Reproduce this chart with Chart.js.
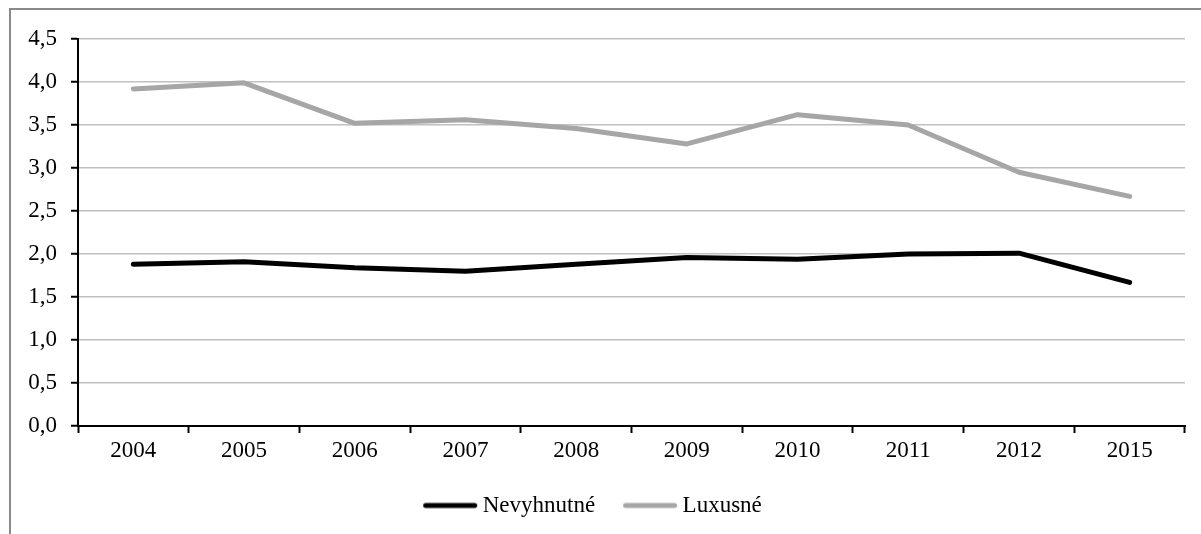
<!DOCTYPE html>
<html lang="sk">
<head>
  <meta charset="UTF-8" />
  <title>Nevyhnutné a luxusné</title>
  <script src="https://cdn.jsdelivr.net/npm/chart.js"></script>
  <style>
    html, body {
      margin: 0;
      padding: 0;
      background: #fff;
      overflow: hidden;
    }
    .frame {
      position: absolute;
      left: 9px;
      top: 8px;
      width: 1300px;
      height: 700px;
      border-left: 2px solid #8a8a8a;
      border-top: 2px solid #8a8a8a;
    }
    .wrap {
      position: absolute;
      left: 0;
      top: 0;
      width: 1201px;
      height: 534px;
    }
  </style>
</head>
<body>
  <div class="frame"></div>
  <div class="wrap"><canvas id="chart" width="1201" height="534"></canvas></div>

  <script>
    const years = ['2004', '2005', '2006', '2007', '2008', '2009', '2010', '2011', '2012', '2015'];
    const nevyhnutne = [1.88, 1.91, 1.84, 1.80, 1.88, 1.96, 1.94, 2.00, 2.01, 1.67];
    const luxusne = [3.92, 3.99, 3.52, 3.56, 3.46, 3.28, 3.62, 3.50, 2.95, 2.67];

    const font = { family: "'Liberation Serif', 'Times New Roman', serif", size: 23 };

    // legend swatch: thick round-ended line, 54px, starting at the box's left edge
    // (image is centred on a 48px box, so it is 70 wide and the line starts 11px in)
    function lineIcon(color) {
      const c = document.createElement('canvas');
      c.width = 70;
      c.height = 8;
      const g = c.getContext('2d');
      g.strokeStyle = color;
      g.lineWidth = 5;
      g.lineCap = 'round';
      g.beginPath();
      g.moveTo(13.5, 4);
      g.lineTo(62.5, 4);
      g.stroke();
      return c;
    }

    new Chart(document.getElementById('chart'), {
      type: 'line',
      data: {
        labels: years,
        datasets: [
          {
            label: 'Nevyhnutné',
            data: nevyhnutne,
            borderColor: '#000000',
            backgroundColor: '#000000',
            borderWidth: 5,
            borderCapStyle: 'round',
            borderJoinStyle: 'round',
            pointRadius: 0,
            pointStyle: lineIcon('#000000'),
            tension: 0
          },
          {
            label: 'Luxusné',
            data: luxusne,
            borderColor: '#a6a6a6',
            backgroundColor: '#a6a6a6',
            borderWidth: 5,
            borderCapStyle: 'round',
            borderJoinStyle: 'round',
            pointRadius: 0,
            pointStyle: lineIcon('#a6a6a6'),
            tension: 0
          }
        ]
      },
      options: {
        responsive: false,
        animation: false,
        layout: { padding: { left: 0, right: 16, top: 39, bottom: 7 } },
        plugins: {
          tooltip: { enabled: false },
          legend: {
            position: 'bottom',
            labels: {
              color: '#000',
              font: font,
              usePointStyle: true,
              pointStyleWidth: 48,
              padding: 28,
              boxHeight: 8
            }
          }
        },
        scales: {
          x: {
            offset: true,
            grid: {
              offset: true,
              drawOnChartArea: false,
              tickLength: 7,
              tickColor: '#000',
              tickWidth: 2
            },
            border: { color: '#000', width: 2 },
            ticks: { color: '#000', font: font, padding: 4, maxRotation: 0 },
            afterFit: s => { s.height = 40; }
          },
          y: {
            min: 0,
            max: 4.5,
            ticks: {
              stepSize: 0.5,
              color: '#000',
              font: font,
              padding: 14,
              callback: v => v.toFixed(1).replace('.', ',')
            },
            grid: {
              color: '#c0c0c0',
              lineWidth: 1.5,
              tickLength: 7,
              tickColor: '#000',
              tickWidth: 2
            },
            border: { color: '#000', width: 2 },
            afterFit: s => { s.width = 78; }
          }
        }
      }
    });
  </script>
</body>
</html>
